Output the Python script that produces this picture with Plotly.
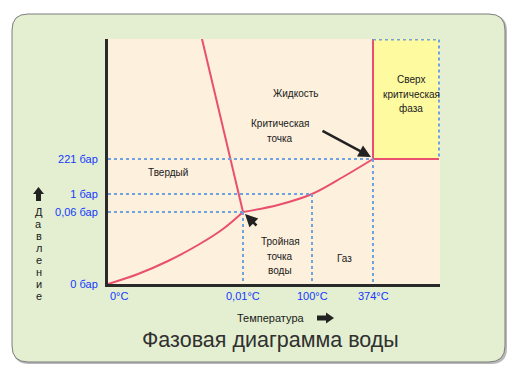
import plotly.graph_objects as go

# ---- data (schematic coordinates) ----
temp_labels = ["0°C", "0,01°C", "100°C", "374°C"]
temp_pos = [0, 135, 204, 265]
press_labels = ["0 бар", "0,06 бар", "1 бар", "221 бар"]
press_pos = [0, 72, 90, 125]

sub_x = [0, 30, 60, 90, 115, 135]
sub_y = [0, 10, 23, 39, 55, 72]
vap_x = [135, 170, 204, 235, 265]
vap_y = [72, 79, 90, 107, 125]
melt_x = [135, 94]
melt_y = [72, 245]

x_max = 332
y_max = 245

region_texts = ["Твердый", "Жидкость", "Газ", "Сверх<br>критическая<br>фаза"]
region_x = [60, 188, 236, 303]
region_y = [112, 191, 26, 190]

point_texts = ["Критическая<br>точка", "Тройная<br>точка<br>воды"]
point_x = [172, 172]
point_y = [153, 28]
arrow_head_x = [263, 137]
arrow_head_y = [127, 70]
arrow_tail_x = [213, 150]
arrow_tail_y = [154, 57]

y_title = "Давление"
x_title = "Температура"
title = "Фазовая диаграмма воды"

# ---- layout geometry (page pixel coordinates) ----
OFF = 8                       # default body margin of the html page
W, H = 520 - 2 * OFF, 378 - 2 * OFF
L, R, T, B = 108, 440, 39, 284


def px(x):
    return (x - L) / (R - L)


def py(y):
    return (B - y) / (B - T)


RED = "#e8506e"
BLUE_DOT = "#6ea3e0"
TICK_BLUE = "#1438ff"
TXT = "#1a1a1a"
FONT = "Liberation Sans"
LINE_H = 14.5

fig = go.Figure()

# curves
for xs, ys, shp in [(sub_x, sub_y, "spline"), (vap_x, vap_y, "spline"), (melt_x, melt_y, "linear")]:
    fig.add_trace(go.Scatter(x=xs, y=ys, mode="lines",
                             line=dict(color=RED, width=2, shape=shp, smoothing=1.0),
                             cliponaxis=False, hoverinfo="skip"))

# supercritical boundaries
cx, cy = temp_pos[3], press_pos[3]
fig.add_trace(go.Scatter(x=[cx, cx], y=[cy, y_max], mode="lines",
                         line=dict(color=RED, width=2), cliponaxis=False, hoverinfo="skip"))
fig.add_trace(go.Scatter(x=[cx, x_max - 1], y=[cy, cy], mode="lines",
                         line=dict(color=RED, width=2), cliponaxis=False, hoverinfo="skip"))

# dotted guide lines
for i in range(1, 4):
    fig.add_trace(go.Scatter(x=[0, temp_pos[i]], y=[press_pos[i], press_pos[i]], mode="lines",
                             line=dict(color=BLUE_DOT, width=2, dash="dot"),
                             cliponaxis=False, hoverinfo="skip"))
    fig.add_trace(go.Scatter(x=[temp_pos[i], temp_pos[i]], y=[press_pos[i], 0], mode="lines",
                             line=dict(color=BLUE_DOT, width=2, dash="dot"),
                             cliponaxis=False, hoverinfo="skip"))
fig.add_trace(go.Scatter(x=[cx, x_max - 1, x_max - 1], y=[y_max - 0.5, y_max - 0.5, cy],
                         mode="lines", line=dict(color=BLUE_DOT, width=2, dash="dot"),
                         cliponaxis=False, hoverinfo="skip"))


def rounded(x0, y0, x1, y1, r):
    return (f"M {px(x0 + r)},{py(y0)} L {px(x1 - r)},{py(y0)} "
            f"Q {px(x1)},{py(y0)} {px(x1)},{py(y0 + r)} "
            f"L {px(x1)},{py(y1 - r)} Q {px(x1)},{py(y1)} {px(x1 - r)},{py(y1)} "
            f"L {px(x0 + r)},{py(y1)} Q {px(x0)},{py(y1)} {px(x0)},{py(y1 - r)} "
            f"L {px(x0)},{py(y0 + r)} Q {px(x0)},{py(y0)} {px(x0 + r)},{py(y0)} Z")


shapes = []
shapes.append(dict(type="path", xref="paper", yref="paper", layer="below",
                   path=rounded(13, 15, 507, 364, 16), fillcolor="#b8b8b8",
                   line=dict(width=0)))
shapes.append(dict(type="path", xref="paper", yref="paper", layer="below",
                   path=rounded(12, 14, 505, 362, 16), fillcolor="#e3efd0",
                   line=dict(color="#7d7d7d", width=1)))
shapes.append(dict(type="rect", xref="paper", yref="paper", layer="below",
                   x0=0, x1=1, y0=0, y1=1, fillcolor="#fdf0dd", line=dict(width=0)))
shapes.append(dict(type="rect", xref="x", yref="y", layer="below",
                   x0=cx, x1=x_max - 1, y0=cy, y1=y_max, fillcolor="#fefaa0",
                   line=dict(width=0)))
# right arrow next to x title
ax0, ay0 = 317, 318
shapes.append(dict(type="path", xref="paper", yref="paper",
                   path=(f"M {px(ax0)},{py(ay0 - 2.5)} L {px(ax0 + 9)},{py(ay0 - 2.5)} "
                         f"L {px(ax0 + 9)},{py(ay0 - 5.5)} L {px(ax0 + 17)},{py(ay0)} "
                         f"L {px(ax0 + 9)},{py(ay0 + 5.5)} L {px(ax0 + 9)},{py(ay0 + 2.5)} "
                         f"L {px(ax0)},{py(ay0 + 2.5)} Z"),
                   fillcolor="#222222", line=dict(width=0)))
# up arrow above y title
ux, uy = 38.5, 187
shapes.append(dict(type="path", xref="paper", yref="paper",
                   path=(f"M {px(ux)},{py(uy)} L {px(ux + 5.5)},{py(uy + 7)} "
                         f"L {px(ux + 2.5)},{py(uy + 7)} L {px(ux + 2.5)},{py(uy + 14)} "
                         f"L {px(ux - 2.5)},{py(uy + 14)} L {px(ux - 2.5)},{py(uy + 7)} "
                         f"L {px(ux - 5.5)},{py(uy + 7)} Z"),
                   fillcolor="#222222", line=dict(width=0)))

annotations = []


def add_text(t, x, y):
    lines = t.split("<br>")
    n = len(lines)
    for k, ln in enumerate(lines):
        annotations.append(dict(x=x, y=y, xref="x", yref="y", text=ln, showarrow=False,
                                xanchor="center", yanchor="middle",
                                yshift=((n - 1) / 2 - k) * LINE_H,
                                font=dict(family=FONT, size=10, color=TXT)))


for t, x, y in zip(region_texts, region_x, region_y):
    add_text(t, x, y)
for t, x, y in zip(point_texts, point_x, point_y):
    add_text(t, x, y)
for hx, hy, tx, ty in zip(arrow_head_x, arrow_head_y, arrow_tail_x, arrow_tail_y):
    annotations.append(dict(x=hx, y=hy, xref="x", yref="y", ax=tx, ay=ty,
                            axref="x", ayref="y", text="", showarrow=True,
                            arrowhead=2, arrowsize=1.0, arrowwidth=2.5,
                            arrowcolor="#222222", standoff=0, startstandoff=0))
# x tick labels
for i, (t, x) in enumerate(zip(temp_labels, temp_pos)):
    annotations.append(dict(x=x, y=0, xref="x", yref="paper", text=t, showarrow=False,
                            xanchor="left" if i == 0 else "center", yanchor="top",
                            yshift=-4,
                            font=dict(family=FONT, size=11, color=TICK_BLUE)))
# y title (vertical letters)
for k, ch in enumerate(y_title):
    annotations.append(dict(x=px(38.5), y=py(212 + 12 * k), xref="paper", yref="paper",
                            text=ch, showarrow=False, xanchor="center", yanchor="middle",
                            font=dict(family=FONT, size=11, color=TXT)))
annotations.append(dict(x=px(271), y=py(318), xref="paper", yref="paper", text=x_title,
                        showarrow=False, xanchor="center", yanchor="middle",
                        font=dict(family=FONT, size=11, color=TXT)))
annotations.append(dict(x=px(270), y=py(340), xref="paper", yref="paper", text=title,
                        showarrow=False, xanchor="center", yanchor="middle",
                        font=dict(family=FONT, size=21.5, color="#303030")))

fig.update_layout(
    width=W, height=H,
    margin=dict(l=L - OFF, r=W - (R - OFF), t=T - OFF, b=H - (B - OFF), pad=0),
    paper_bgcolor="white", plot_bgcolor="rgba(0,0,0,0)",
    showlegend=False,
    shapes=shapes, annotations=annotations,
    xaxis=dict(range=[0, x_max], showgrid=False, zeroline=False, showline=True,
               linecolor="#2a2a2a", linewidth=3, showticklabels=False, ticks="",
               fixedrange=True),
    yaxis=dict(range=[0, y_max], showgrid=False, zeroline=False, showline=True,
               linecolor="#2a2a2a", linewidth=3, tickvals=press_pos, ticktext=press_labels,
               ticks="outside", ticklen=5, tickcolor="rgba(0,0,0,0)",
               tickfont=dict(family=FONT, size=11, color=TICK_BLUE), fixedrange=True),
)

fig.write_html("out.html", config={"displayModeBar": False})
